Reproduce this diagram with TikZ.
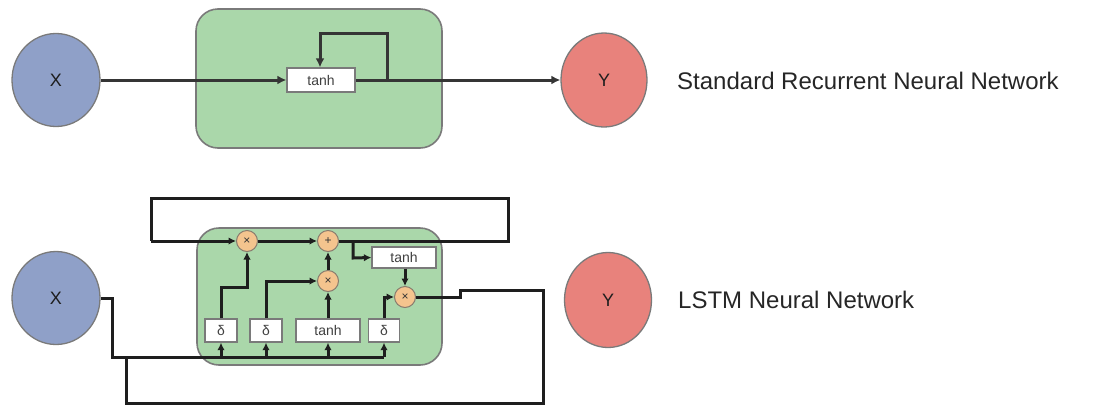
\documentclass[tikz,border=0pt]{standalone}
\usepackage{fontspec}
\setmainfont{Liberation Sans}
\usetikzlibrary{arrows.meta,shapes.geometric}

\definecolor{inblue}{HTML}{8FA0C8}
\definecolor{outred}{HTML}{E8827C}
\definecolor{cellgreen}{HTML}{AAD7AA}
\definecolor{oporange}{HTML}{F4C48E}
\definecolor{edgegray}{HTML}{7A7A7A}
\definecolor{wire}{HTML}{1E1E1E}

\tikzset{
  io/.style={ellipse, draw=edgegray, line width=1.3pt, minimum width=88pt, minimum height=93pt,
             inner sep=0pt, font=\fontsize{18}{18}\selectfont, text=wire},
  cell/.style={draw=edgegray, line width=1.6pt, fill=cellgreen, rounded corners=22pt},
  gate/.style={draw=edgegray, line width=1.3pt, fill=white, inner sep=0pt,
               font=\fontsize{14}{14}\selectfont, text=black!75},
  op/.style={circle, draw=edgegray!80!brown, line width=1pt, fill=oporange, minimum size=21pt,
             inner sep=0pt, font=\fontsize{12}{12}\selectfont, text=black!80},
  link/.style={draw=wire!90, line width=3pt},
  arr/.style={link, -{Latex[length=9pt,width=9pt]}},
  sarr/.style={draw=wire, line width=3pt, -{Latex[length=7.5pt,width=7.5pt]}},
  swire/.style={draw=wire, line width=3pt},
  caption/.style={anchor=west, inner sep=0pt, font=\fontsize{24}{24}\selectfont, text=black!85}
}

\begin{document}
\begin{tikzpicture}[x=1pt,y=-1pt]
\useasboundingbox (0,0) rectangle (1103,405);

% ---------- standard recurrent network ----------
\draw[cell] (196,9) rectangle (442,148);
\node[io, fill=inblue] (x1) at (56,80) {X};
\node[io, fill=outred, minimum width=86pt, minimum height=94pt] (y1) at (604,80) {Y};
\node[gate, minimum width=68pt, minimum height=24pt] (t1) at (321,80) {tanh};
\coordinate (r1) at (387,80);
\draw[arr] (x1) -- (t1);
\draw[arr] (t1) -- (y1);
\draw[arr] (r1) -- (387,33) -- (320,33) -- (t1.north -| 320,0);
\node[caption] (c1) at (677,81) {Standard Recurrent Neural Network};

% ---------- LSTM ----------
\draw[cell] (197,228) rectangle (442,365);
\node[io, fill=inblue] (x2) at (56,298) {X};
\node[io, fill=outred, minimum width=87pt, minimum height=95pt] (y2) at (608,300) {Y};
\node[caption] (c2) at (678,300) {LSTM Neural Network};

% pointwise operations
\node[op] (m1) at (247,241) {×};
\node[op] (pl) at (328,241) {+};
\node[op] (m2) at (328,281) {×};
\node[op] (m3) at (405,297) {×};

% layers
\node[gate, minimum width=64pt, minimum height=21pt] (tc) at (404,257.5) {tanh};
\node[gate, minimum width=32pt, minimum height=23pt] (s1) at (221,330.5) {δ};
\node[gate, minimum width=32pt, minimum height=23pt] (s2) at (266,330.5) {δ};
\node[gate, minimum width=64pt, minimum height=23pt] (tb) at (328,330.5) {tanh};
\node[gate, minimum width=31pt, minimum height=23pt] (s3) at (384,330.5) {δ};

% cell state loop
\draw[swire] (pl) -- (508,241) -- (508,198) -- (151,198) -- (151,241);
\draw[sarr] (151,241) -- (m1);
\draw[sarr] (m1) -- (pl);
\draw[sarr] (m2) -- (pl);
\draw[sarr] (tb) -- (m2);
\draw[sarr] (353,241) -- (353,258) -- (tc.west);
\draw[sarr] (tc.south -| m3) -- (m3);

% gate outputs
\draw[sarr] (s1.north) -- (221,287) -- (247,287) -- (m1.south);
\draw[sarr] (s2.north) -- (266,281) -- (m2.west);
\draw[sarr] (s3.north) -- (384,297) -- (m3.west);

% input bus
\coordinate (bus) at (112,357);
\draw[swire] (x2.east) -- (112,298) -- (bus) -- (384,357);
\draw[sarr] (221,357) -- (s1.south);
\draw[sarr] (266,357) -- (s2.south);
\draw[sarr] (328,357) -- (tb.south);
\draw[sarr] (384,357) -- (s3.south);

% hidden state fed back to the input
\coordinate (hin) at (126,357);
\draw[swire] (m3.east) -- (460,297) -- (460,290) -- (543,290) -- (543,403) -- (126,403) -- (hin);
\end{tikzpicture}
\end{document}
